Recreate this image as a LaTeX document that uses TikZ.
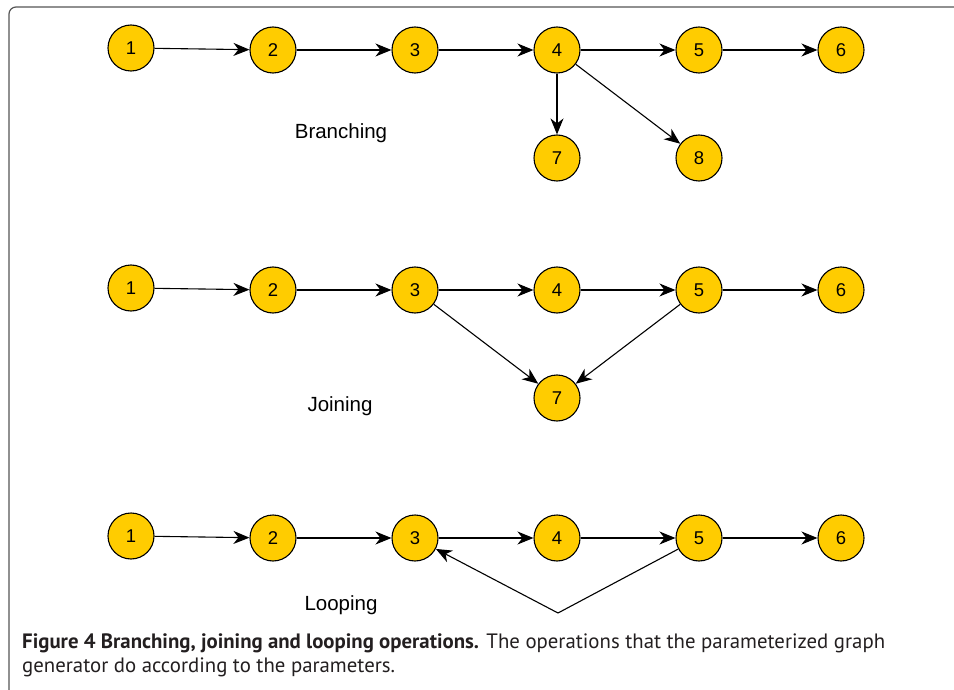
\documentclass[tikz,border=0pt]{standalone}
\usepackage{fontspec}
\setmainfont{Liberation Sans}
\newfontfamily\capfont{PT Sans}
\usetikzlibrary{arrows.meta}
\definecolor{nodefill}{HTML}{FFCC00}
\definecolor{framecol}{HTML}{555555}
\definecolor{captext}{HTML}{231F20}
\tikzset{
  gnode/.style={circle, draw=black, line width=1.1pt, fill=nodefill, minimum size=46pt, inner sep=0pt, font=\fontsize{18.5}{18.5}\selectfont},
  edge/.style={line width=1.1pt, -{Stealth[length=16pt,width=13pt,inset=5pt]}},
  oplabel/.style={anchor=base, font=\fontsize{20.5}{21}\selectfont},
  captionline/.style={anchor=base west, inner sep=0pt, text=captext, font=\capfont\fontsize{20.8}{22}\selectfont},
}
\begin{document}
\begin{tikzpicture}[x=1pt,y=-1pt]
\useasboundingbox (0,0) rectangle (954,690);
\draw[framecol, line width=1.2pt, rounded corners=7pt] (9,700) -- (9,7) -- (970,7);

% Branching
\node[gnode] (a1) at (131,48) {1};
\node[gnode] (a2) at (273,50) {2};
\node[gnode] (a3) at (415,50) {3};
\node[gnode] (a4) at (557,50) {4};
\node[gnode] (a5) at (699,50) {5};
\node[gnode] (a6) at (841,50) {6};
\node[gnode] (a7) at (557,158) {7};
\node[gnode] (a8) at (699,158) {8};
\draw[edge] (a1) -- (a2);
\draw[edge] (a2) -- (a3);
\draw[edge] (a3) -- (a4);
\draw[edge] (a4) -- (a5);
\draw[edge] (a5) -- (a6);
\draw[edge] (a4) -- (a7);
\draw[edge] (a4) -- (a8);
\node[oplabel] (lb) at (341,139) {Branching};

% Joining
\node[gnode] (b1) at (131,288) {1};
\node[gnode] (b2) at (273,290) {2};
\node[gnode] (b3) at (415,290) {3};
\node[gnode] (b4) at (557,290) {4};
\node[gnode] (b5) at (699,290) {5};
\node[gnode] (b6) at (841,290) {6};
\node[gnode] (b7) at (557,398) {7};
\draw[edge] (b1) -- (b2);
\draw[edge] (b2) -- (b3);
\draw[edge] (b3) -- (b4);
\draw[edge] (b4) -- (b5);
\draw[edge] (b5) -- (b6);
\draw[edge] (b3) -- (b7);
\draw[edge] (b5) -- (b7);
\node[oplabel] (lj) at (340,411) {Joining};

% Looping
\node[gnode] (c1) at (131,536) {1};
\node[gnode] (c2) at (273,538) {2};
\node[gnode] (c3) at (415,538) {3};
\node[gnode] (c4) at (557,538) {4};
\node[gnode] (c5) at (699,538) {5};
\node[gnode] (c6) at (841,538) {6};
\coordinate (cb) at (558,613);
\draw[edge] (c1) -- (c2);
\draw[edge] (c2) -- (c3);
\draw[edge] (c3) -- (c4);
\draw[edge] (c4) -- (c5);
\draw[edge] (c5) -- (c6);
\draw[edge] (c5) -- (cb) -- (c3);
\node[oplabel] (ll) at (341,610) {Looping};

% Caption
\node[captionline] (cap1) at (22,648)
  {\textbf{Figure 4 Branching, joining and looping operations.} The operations that the parameterized graph};
\node[captionline] (cap2) at (22,672) {generator do according to the parameters.};
\end{tikzpicture}
\end{document}
